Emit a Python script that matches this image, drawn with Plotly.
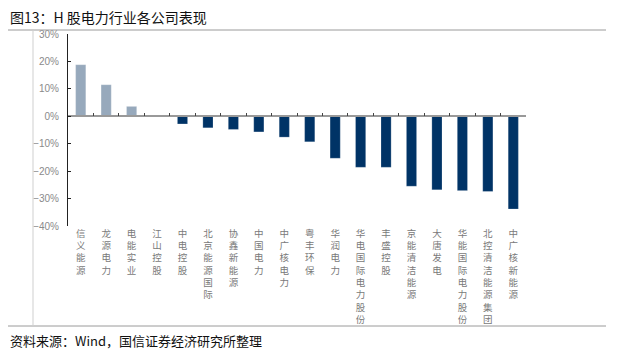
import plotly.graph_objects as go

companies = ["信义能源", "龙源电力", "电能实业", "江山控股", "中电控股", "北京能源国际",
             "协鑫新能源", "中国电力", "中广核电力", "粤丰环保", "华润电力", "华电国际电力股份",
             "丰盛控股", "京能清洁能源", "大唐发电", "华能国际电力股份", "北控清洁能源集团", "中广核新能源"]
returns_pct = [18.8, 11.5, 3.6, 0.0, -2.8, -4.2, -4.8, -5.7, -7.6, -9.3, -15.3, -18.6,
               -18.6, -25.5, -26.8, -27.1, -27.4, -33.8]
y_ticks = [-40, -30, -20, -10, 0, 10, 20, 30]
y_tick_labels = ["−40%", "−30%", "−20%", "−10%", "0%", "10%", "20%", "30%"]

POS_COLOR = "#97A9BC"
NEG_COLOR = "#003366"

colors = [POS_COLOR if v >= 0 else NEG_COLOR for v in returns_pct]
vertical_labels = ["<br>".join(list(c)) for c in companies]

fig = go.Figure()
fig.add_trace(go.Bar(
    x=companies, y=returns_pct,
    marker=dict(color=colors, line=dict(color="rgba(255,255,255,0.35)", width=0.6)),
    hoverinfo="x+y", showlegend=False,
))
# invisible trace carrying the zero-line axis
fig.add_trace(go.Scatter(
    x=companies, y=[0] * len(companies), xaxis="x2", yaxis="y",
    mode="markers", marker=dict(opacity=0), hoverinfo="skip", showlegend=False,
))

# page body has an 8px default margin -> work in reference pixels minus 8
OFF = 8
W, H = 617 - OFF, 356 - OFF
PL, PR, PT, PB = 68, 526, 34, 226          # plot area in reference pixels
L, T = PL - OFF, PT - OFF
R = W - (PR - OFF)
B = H - (PB - OFF)
plot_w = PR - PL
plot_h = PB - PT
ymin, ymax = -40, 30
x_range = [-0.5, len(companies) - 0.5]

def px_x(px):
    return (px - PL) / plot_w

def px_y(py):
    return (PB - py) / plot_h

fig.update_layout(
    width=W, height=H,
    margin=dict(l=L, r=R, t=T, b=B, autoexpand=False),
    plot_bgcolor="white", paper_bgcolor="white",
    bargap=0.6,
    font=dict(family="Noto Sans CJK SC, Liberation Sans, sans-serif"),
    xaxis=dict(
        type="category", range=x_range,
        tickmode="array", tickvals=companies, ticktext=vertical_labels,
        tickfont=dict(size=9.5, color="#7a7a7a", family="Noto Sans CJK SC"),
        showline=False, ticks="", showgrid=False, zeroline=False,
        tickangle=0, automargin=False,
    ),
    xaxis2=dict(
        type="category", overlaying="x", matches="x", anchor="free",
        position=(0 - ymin) / (ymax - ymin),
        showline=True, linecolor="#999999", linewidth=1.5,
        ticks="inside", ticklen=3, tickcolor="#444444", tickwidth=1,
        tickson="boundaries", showticklabels=False, showgrid=False,
    ),
    yaxis=dict(
        range=[ymin, ymax], tickmode="array", tickvals=y_ticks, ticktext=y_tick_labels,
        showline=True, linecolor="#222222", linewidth=1,
        ticks="inside", ticklen=3, tickcolor="#222222", ticklabelstandoff=6,
        tickfont=dict(size=10, color="#8a8a8a", family="Liberation Sans"),
        showgrid=False, zeroline=False, automargin=False,
    ),
    shapes=[
        dict(type="line", xref="paper", yref="paper", x0=px_x(OFF), x1=px_x(606),
             y0=px_y(30), y1=px_y(30), line=dict(color="#9a9a9a", width=1)),
        dict(type="line", xref="paper", yref="paper", x0=px_x(OFF), x1=px_x(606),
             y0=px_y(326), y1=px_y(326), line=dict(color="#9a9a9a", width=1)),
        dict(type="line", xref="paper", yref="paper", x0=px_x(33), x1=px_x(33),
             y0=px_y(30), y1=px_y(326), line=dict(color="#cfcfcf", width=1)),
    ],
    annotations=[
        dict(text="图13：H 股电力行业各公司表现", xref="paper", yref="paper",
             x=px_x(8), y=px_y(17), xanchor="left", yanchor="middle", showarrow=False,
             font=dict(size=14, color="#111111", family="Noto Sans CJK SC")),
        dict(text="资料来源：Wind，国信证券经济研究所整理", xref="paper", yref="paper",
             x=px_x(8), y=px_y(340), xanchor="left", yanchor="middle", showarrow=False,
             font=dict(size=13, color="#111111", family="Noto Sans CJK SC")),
    ],
)

fig.write_html("out.html")
